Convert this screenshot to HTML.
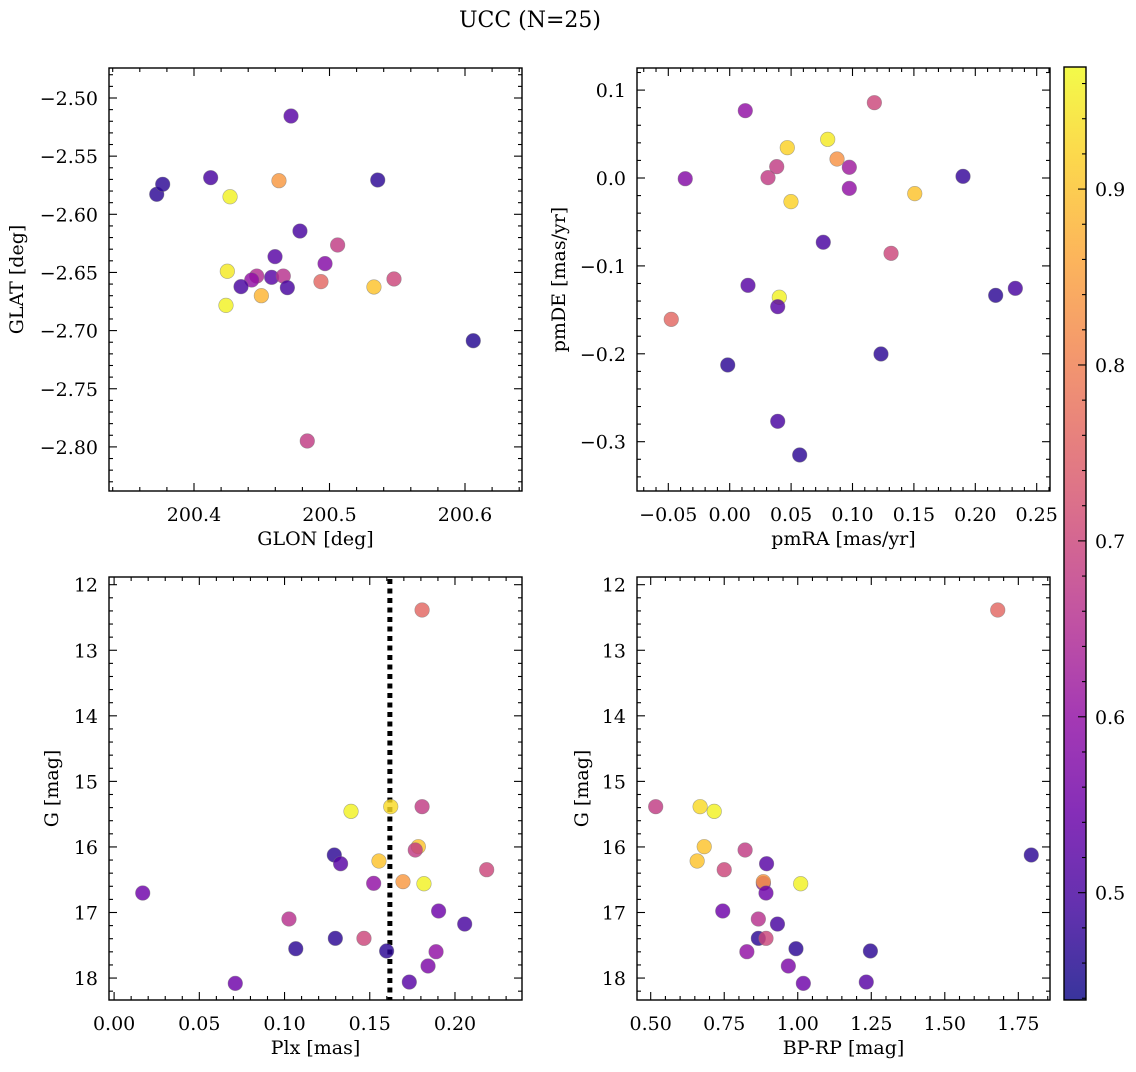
<!DOCTYPE html>
<html><head><meta charset="utf-8"><style>
body{margin:0;background:#fff}
svg text{font-family:"DejaVu Serif","Liberation Serif",serif;fill:#000}
</style></head><body>
<svg id="fig" width="1136" height="1067" viewBox="0 0 1136 1067" xmlns="http://www.w3.org/2000/svg">
<text x="530" y="27" font-size="22" text-anchor="middle">UCC (N=25)</text>
</svg>
<script>
// ---- data: top-left (sky positions)
const tlGlon=[200.4716,200.3725,200.3769,200.4123,200.4266,200.4627,200.5356,200.4782,200.5060,200.4598,200.4967,200.4246,200.4463,200.4426,200.4573,200.4659,200.4347,200.4689,200.4937,200.5476,200.5328,200.4497,200.4236,200.6061,200.4836];
const tlGlat=[-2.5155,-2.5828,-2.5742,-2.5685,-2.5849,-2.5711,-2.5705,-2.6144,-2.6264,-2.6364,-2.6424,-2.6490,-2.6531,-2.6565,-2.6542,-2.6531,-2.6622,-2.6631,-2.6579,-2.6556,-2.6625,-2.6700,-2.6783,-2.7087,-2.7949];
const tlProb=[0.52,0.47,0.47,0.50,0.96,0.84,0.47,0.50,0.68,0.52,0.58,0.95,0.65,0.60,0.52,0.66,0.50,0.50,0.76,0.70,0.90,0.88,0.96,0.46,0.68];
// ---- data: top-right (proper motions)
const trPmra=[0.0127,0.1178,0.0798,0.0469,0.0874,0.0383,0.0974,0.0312,-0.0362,0.1900,0.0974,0.1507,0.0499,0.0762,0.1314,0.0149,0.2166,0.2326,0.0404,0.0391,-0.0476,-0.0016,0.1232,0.0391,0.0570];
const trPmde=[0.0766,0.0857,0.0440,0.0345,0.0216,0.0129,0.0122,0.0004,-0.0008,0.0019,-0.0118,-0.0178,-0.0269,-0.0731,-0.0857,-0.1221,-0.1335,-0.1255,-0.1357,-0.1464,-0.1608,-0.2127,-0.2002,-0.2768,-0.3151];
const trProb=[0.60,0.70,0.95,0.92,0.83,0.68,0.62,0.68,0.58,0.48,0.60,0.90,0.92,0.50,0.70,0.52,0.47,0.50,0.96,0.52,0.76,0.47,0.47,0.50,0.47];
// ---- data: bottom panels (shared G magnitude)
const gMag=[12.386,15.386,15.386,15.457,15.996,16.047,16.123,16.256,16.215,16.347,16.555,16.530,16.561,16.703,16.977,17.099,17.176,17.394,17.394,17.552,17.587,17.598,17.816,18.081,18.061];
const plx=[0.1807,0.1623,0.1807,0.1390,0.1785,0.1767,0.1292,0.1329,0.1554,0.2186,0.1523,0.1695,0.1818,0.0168,0.1904,0.1026,0.2057,0.1298,0.1466,0.1066,0.1599,0.1889,0.1842,0.0711,0.1732];
const bprp=[1.680,0.668,0.517,0.716,0.682,0.821,1.794,0.894,0.658,0.750,0.883,0.883,1.010,0.892,0.745,0.866,0.931,0.866,0.892,0.994,1.247,0.827,0.968,1.019,1.233];
const gProb=[0.76,0.93,0.68,0.96,0.90,0.68,0.47,0.52,0.90,0.70,0.60,0.84,0.96,0.55,0.55,0.66,0.50,0.47,0.70,0.47,0.47,0.60,0.57,0.55,0.52];
const plxMedian=0.1618;
// ---- tick labels
const tlXTicks=[200.4,200.5,200.6];
const tlYTicks=[-2.50,-2.55,-2.60,-2.65,-2.70,-2.75,-2.80];
const trXTicks=[-0.05,0.00,0.05,0.10,0.15,0.20,0.25];
const trYTicks=[0.1,0.0,-0.1,-0.2,-0.3];
const gTicks=[12,13,14,15,16,17,18];
const plxTicks=[0.00,0.05,0.10,0.15,0.20];
const bprpTicks=[0.50,0.75,1.00,1.25,1.50,1.75];
const cbTicks=[0.5,0.6,0.7,0.8,0.9];
const cbMin=0.439, cbMax=0.9694;

const NS='http://www.w3.org/2000/svg';
const svg=document.getElementById('fig');
function mk(tag,at,parent){const e=document.createElementNS(NS,tag);for(const k in at)e.setAttribute(k,at[k]);(parent||svg).appendChild(e);return e;}
const stops=[[13,8,135],[65,4,157],[106,0,168],[143,13,164],[177,42,144],[204,71,120],[225,100,98],[242,132,75],[252,166,54],[252,206,37],[240,249,33]];
function plasma(v){let t=(v-cbMin)/(cbMax-cbMin);t=Math.max(0,Math.min(1,t))*10;const i=Math.min(9,Math.floor(t)),f=t-i;const a=stops[i],b=stops[i+1];return 'rgb('+a.map((c,k)=>Math.round(c+(b[k]-c)*f)).join(',')+')';}
function fmt(v,d){const s=Math.abs(v).toFixed(d);return (v<-1e-9?'\u2212':'')+s;}

function panel(o){
  const g=mk('g',{});
  
  
  const sx=v=>o.L+(v-o.x0)/(o.x1-o.x0)*(o.R-o.L);
  const sy=v=>o.T+(v-o.y0)/(o.y1-o.y0)*(o.B-o.T);
  const tk=mk('g',{stroke:'#000','stroke-width':1.1},g);
  
  
  const xa=Math.min(o.x0,o.x1),xb=Math.max(o.x0,o.x1),ya=Math.min(o.y0,o.y1),yb=Math.max(o.y0,o.y1);
  for(let v=Math.ceil(xa/o.xm-1e-6)*o.xm;v<=xb+1e-9;v+=o.xm){const X=sx(v);const maj=Math.abs(v/o.xM-Math.round(v/o.xM))<1e-4;const l=maj?8:4;
    mk('line',{x1:X,x2:X,y1:o.B,y2:o.B-l},tk);mk('line',{x1:X,x2:X,y1:o.T,y2:o.T+l},tk);}
  for(let v=Math.ceil(ya/o.ym-1e-6)*o.ym;v<=yb+1e-9;v+=o.ym){const Y=sy(v);const maj=Math.abs(v/o.yM-Math.round(v/o.yM))<1e-4;const l=maj?8:4;
    mk('line',{y1:Y,y2:Y,x1:o.L,x2:o.L+l},tk);mk('line',{y1:Y,y2:Y,x1:o.R,x2:o.R-l},tk);}
  o.xt.forEach(v=>{const t=mk('text',{x:sx(v),y:o.B+30,'font-size':19,'text-anchor':'middle'},g);t.textContent=fmt(v,o.xd);
    
    });
  o.yt.forEach(v=>{const t=mk('text',{x:o.L-11,y:sy(v)+7,'font-size':19,'text-anchor':'end'},g);t.textContent=fmt(v,o.yd);
    
    });
  const xl=mk('text',{x:(o.L+o.R)/2,y:o.B+54,'font-size':19,'text-anchor':'middle'},g);xl.textContent=o.xlab;
  
  
  const yl=mk('text',{x:0,y:0,'font-size':19,'text-anchor':'middle',transform:'translate('+o.ylx+','+(o.T+o.B)/2+') rotate(-90)'},g);yl.textContent=o.ylab;
  
  
  if(o.vline!==undefined){const l=mk('line',{x1:sx(o.vline),x2:sx(o.vline),y1:o.T+2,y2:o.B,stroke:'#000','stroke-width':5,'stroke-dasharray':'5 4.5'},g);
    
    }
  o.xs.forEach((v,i)=>{const c=mk('circle',{cx:sx(v),cy:sy(o.ys[i]),r:7.3,fill:plasma(o.p[i]),'fill-opacity':0.82,stroke:'#777','stroke-opacity':0.6,'stroke-width':0.6},g);
    
    });
  mk('rect',{x:o.L,y:o.T,width:o.R-o.L,height:o.B-o.T,fill:'none',stroke:'#000','stroke-width':1.4},g);
}
panel({name:'glon-glat-panel',L:109,R:522,T:68,B:491,x0:200.4+(109-194)/1355,x1:200.4+(522-194)/1355,y0:-2.50+(98-68)/1163,y1:-2.50-(491-98)/1163,
  xm:0.02,xM:0.1,ym:0.01,yM:0.05,xt:tlXTicks,yt:tlYTicks,xd:1,yd:2,xlab:'GLON [deg]',ylab:'GLAT [deg]',ylx:23,xs:tlGlon,ys:tlGlat,p:tlProb});
panel({name:'pm-panel',L:637,R:1050,T:68,B:491,x0:(637-729.7)/1228,x1:(1050-729.7)/1228,y0:(178-68)/879,y1:-(491-178)/879,
  xm:0.01,xM:0.05,ym:0.02,yM:0.1,xt:trXTicks,yt:trYTicks,xd:2,yd:1,xlab:'pmRA [mas/yr]',ylab:'pmDE [mas/yr]',ylx:565,xs:trPmra,ys:trPmde,p:trProb});
panel({name:'plx-g-panel',L:109,R:522,T:577,B:1000,x0:(109-114.1)/1704.4,x1:(522-114.1)/1704.4,y0:12-(584.7-577)/65.56,y1:12+(1000-584.7)/65.56,
  xm:0.01,xM:0.05,ym:0.2,yM:1,xt:plxTicks,yt:gTicks,xd:2,yd:0,xlab:'Plx [mas]',ylab:'G [mag]',ylx:58,xs:plx,ys:gMag,p:gProb,vline:plxMedian});
panel({name:'cmd-panel',L:637,R:1050,T:577,B:1000,x0:0.5+(637-650.7)/294.1,x1:0.5+(1050-650.7)/294.1,y0:12-(584.7-577)/65.56,y1:12+(1000-584.7)/65.56,
  xm:0.05,xM:0.25,ym:0.2,yM:1,xt:bprpTicks,yt:gTicks,xd:2,yd:0,xlab:'BP-RP [mag]',ylab:'G [mag]',ylx:588,xs:bprp,ys:gMag,p:gProb});
(function(){
  const L=1064,R=1086,T=67,B=1000;
  const g=mk('g',{});
  
  
  const defs=mk('defs',{},g);const lg=mk('linearGradient',{id:'cbg',x1:0,y1:1,x2:0,y2:0},defs);
  for(let i=0;i<=20;i++){const v=cbMin+(cbMax-cbMin)*i/20;mk('stop',{offset:i/20,'stop-color':plasma(v)},lg);}
  mk('rect',{x:L,y:T,width:R-L,height:B-T,fill:'url(#cbg)','fill-opacity':0.82},g);
  const sy=v=>B-(v-cbMin)/(cbMax-cbMin)*(B-T);
  for(let v=0.44;v<=0.961;v+=0.02){const Y=sy(v);const maj=Math.abs(v*10-Math.round(v*10))<1e-4;mk('line',{x1:R,x2:R-(maj?8:4),y1:Y,y2:Y,stroke:'#000','stroke-width':1.1},g);}
  cbTicks.forEach(v=>{const t=mk('text',{x:R+9,y:sy(v)+7,'font-size':19},g);t.textContent=v.toFixed(1);
    
    });
  mk('rect',{x:L,y:T,width:R-L,height:B-T,fill:'none',stroke:'#000','stroke-width':1.4},g);
})();
</script>
</body></html>
